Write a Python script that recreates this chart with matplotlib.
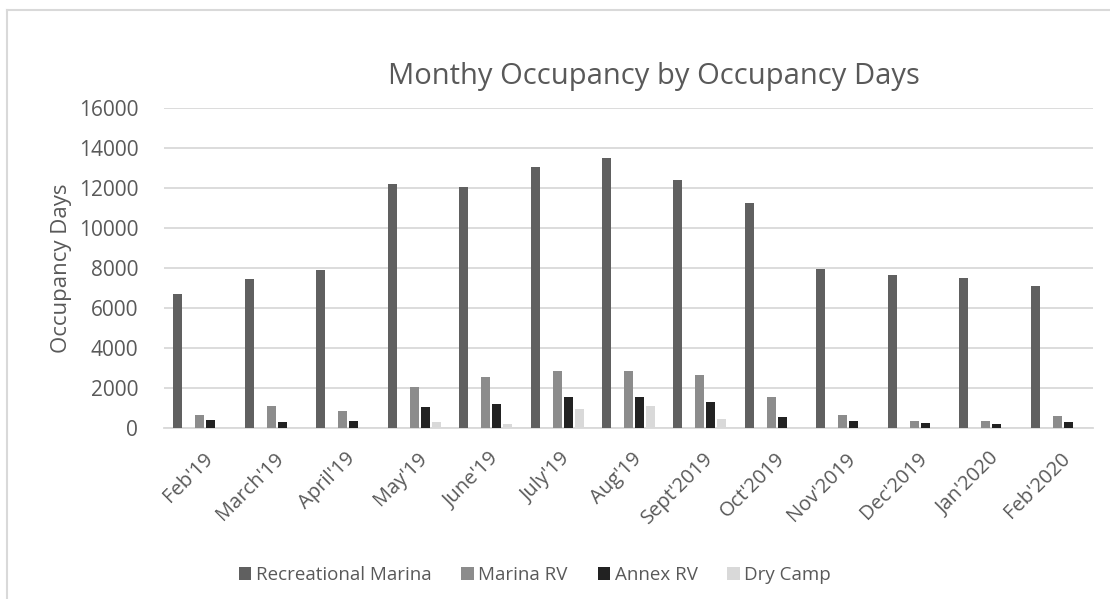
import numpy as np
import matplotlib.pyplot as plt
import matplotlib.transforms as mtransforms
from matplotlib.lines import Line2D

months = ["Feb'19", "March'19", "April'19", "May'19", "June'19", "July'19", "Aug'19",
          "Sept'2019", "Oct'2019", "Nov'2019", "Dec'2019", "Jan'2020", "Feb'2020"]
recreational_marina = [6720, 7450, 7880, 12200, 12040, 13040, 13500, 12420, 11240, 7950, 7640, 7510, 7090]
marina_rv = [660, 1090, 830, 2050, 2560, 2830, 2850, 2630, 1540, 650, 330, 340, 580]
annex_rv = [420, 310, 330, 1050, 1200, 1530, 1540, 1320, 560, 370, 270, 220, 290]
dry_camp = [50, 0, 0, 320, 220, 970, 1080, 430, 50, 0, 0, 0, 0]

plt.rcParams['font.family'] = ['Open Sans', 'DejaVu Sans']
txt = '#595959'
grid = '#d9d9d9'

fig = plt.figure(figsize=(11.1, 5.99), dpi=100)
ax = fig.add_axes([0.1477, 0.2855, 0.837, 0.5342])

x = np.arange(len(months))
slot = 0.154
w = 0.126
# five slots per group, the second one is empty
series = [(recreational_marina, -2, '#606060', 'Recreational Marina'),
          (marina_rv, 0, '#8c8c8c', 'Marina RV'),
          (annex_rv, 1, '#222222', 'Annex RV'),
          (dry_camp, 2, '#d9d9d9', 'Dry Camp')]
for vals, pos, col, lab in series:
    ax.bar(x + pos * slot, vals, width=w, color=col, label=lab, zorder=3)

ax.set_xlim(-0.5, len(months) - 0.5)
ax.set_ylim(0, 16000)
ax.set_yticks(range(0, 16001, 2000))
ax.yaxis.grid(True, color=grid, linewidth=1.3, zorder=0)
for s in ['top', 'right', 'left']:
    ax.spines[s].set_visible(False)
ax.spines['bottom'].set_color(grid)
ax.spines['bottom'].set_linewidth(1.3)
ax.tick_params(length=0, labelcolor=txt)
ax.tick_params(axis='y', labelsize=15, pad=18.5)
ax.set_xticks(x)
ax.set_xticklabels(months, rotation=45, ha='right', rotation_mode='anchor')
ax.tick_params(axis='x', labelsize=14.5, pad=15)
shift = mtransforms.ScaledTranslation(0.03, 0, fig.dpi_scale_trans)
for lbl in ax.get_xticklabels():
    lbl.set_transform(lbl.get_transform() + shift)
ax.set_ylabel('Occupancy Days', fontsize=16, color=txt, labelpad=5)

fig.text(0.589, 0.872, 'Monthy Occupancy by Occupancy Days', fontsize=21,
         color=txt, ha='center', va='center')

fig.legend(loc='center', bbox_to_anchor=(0.482, 0.04), ncol=4, frameon=False,
           fontsize=13.5, labelcolor=txt, handlelength=0.65, handleheight=0.65,
           handletextpad=0.25, columnspacing=1.6)

fig.add_artist(Line2D([0.006, 1.0], [0.983, 0.983], color=grid, linewidth=1.5))
fig.add_artist(Line2D([0.006, 0.006], [0.0, 0.983], color=grid, linewidth=1.5))

fig.savefig('out.png', dpi=100)
